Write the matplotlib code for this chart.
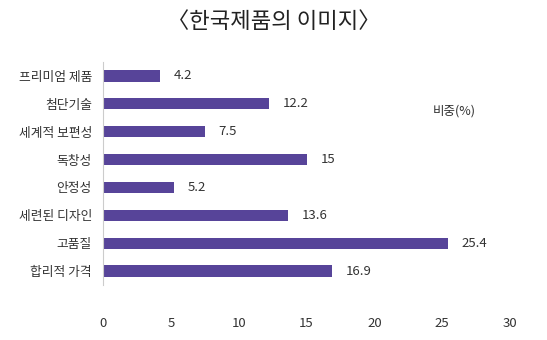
import matplotlib.pyplot as plt

plt.rcParams['font.family'] = ['Noto Sans CJK KR', 'DejaVu Sans']

# data
categories = ["프리미엄 제품", "첨단기술", "세계적 보편성", "독창성", "안정성",
              "세련된 디자인", "고품질", "합리적 가격"]
values = [4.2, 12.2, 7.5, 15, 5.2, 13.6, 25.4, 16.9]
labels = ["4.2", "12.2", "7.5", "15", "5.2", "13.6", "25.4", "16.9"]
xticks = [0, 5, 10, 15, 20, 25, 30]

bar_color = "#574499"
text_color = "#333333"

fig = plt.figure(figsize=(5.47, 3.4), dpi=100)
ax = fig.add_axes([103 / 547, 1 - 285 / 340, (510 - 103) / 547, (285 - 62) / 340])

pos = range(len(categories))
ax.barh(pos, values, height=0.4, color=bar_color)

for i, (v, lab) in enumerate(zip(values, labels)):
    ax.annotate(lab, (v, i), xytext=(10, 0), textcoords="offset points",
                va="center", ha="left", fontsize=9.5, color=text_color)

ax.set_xlim(0, 30)
ax.set_ylim(len(categories) - 0.5, -0.5)
ax.set_yticks(list(pos))
ax.set_yticklabels(categories, fontsize=9.2, color=text_color)
ax.set_xticks(xticks)
ax.set_xticklabels([str(t) for t in xticks], fontsize=9.5, color=text_color)
ax.tick_params(axis="both", length=0)
ax.tick_params(axis="x", pad=23)
ax.tick_params(axis="y", pad=8)

for side in ["top", "right", "bottom"]:
    ax.spines[side].set_visible(False)
ax.spines["left"].set_color("#cccccc")
ax.spines["left"].set_linewidth(0.8)

ax.text(0.81, 0.78, "비중(%)", transform=ax.transAxes, fontsize=9,
        color=text_color, ha="left", va="center")

fig.text(0.5, 1 - 22 / 340, "〈한국제품의 이미지〉", ha="center", va="center",
         fontsize=16, color="#222222")

fig.savefig("out.png", dpi=100, facecolor="white")
